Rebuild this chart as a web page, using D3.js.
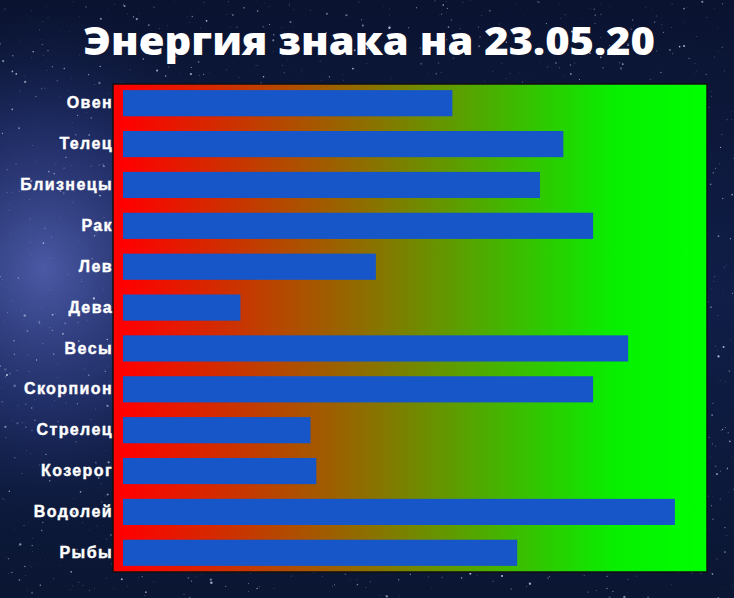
<!DOCTYPE html>
<html lang="ru">
<head>
    <meta charset="UTF-8">
    <script src="https://d3js.org/d3.v7.min.js"></script>
    <title>Энергия знака на 23.05.20</title>
    <style>
        body { margin: 0; background: #0b1533; }
        svg { display: block; }
        .label { font-family: "Liberation Sans", Arial, sans-serif; font-weight: bold; font-size: 16px; fill: #fff; stroke: #fff; stroke-width: 0.4px; letter-spacing: 1.4px; }
        .title { font-family: "Open Sans", "Liberation Sans", sans-serif; font-weight: 800; font-size: 38px; fill: #fff; }
    </style>
</head>
<body>
<div id="chart"></div>
<script>
    const width = 734;
    const height = 598;
    // bord du cadre coloré
    const plot = { left: 113, top: 84, right: 707, bottom: 572 };

    const signes = ["Овен", "Телец", "Близнецы", "Рак", "Лев", "Дева", "Весы", "Скорпион", "Стрелец", "Козерог", "Водолей", "Рыбы"];
    const energie = [56.4, 75.4, 71.4, 80.5, 43.3, 20.1, 86.5, 80.5, 32.1, 33.1, 94.5, 67.5];

    const svg = d3.select("#chart").append("svg")
        .attr("width", width)
        .attr("height", height);

    const defs = svg.append("defs");

    // ciel étoilé
    const ciel = defs.append("linearGradient").attr("id", "ciel")
        .attr("x1", 0).attr("y1", 0).attr("x2", 0).attr("y2", 1);
    ciel.append("stop").attr("offset", "0%").attr("stop-color", "#0a1330");
    ciel.append("stop").attr("offset", "50%").attr("stop-color", "#101e48");
    ciel.append("stop").attr("offset", "100%").attr("stop-color", "#0a1632");

    const voieLactee = defs.append("radialGradient").attr("id", "voie")
        .attr("cx", 0.06).attr("cy", 0.45).attr("r", 0.32)
        .attr("gradientTransform", "translate(0.06,0.45) scale(1,1.4) translate(-0.06,-0.45)");
    voieLactee.append("stop").attr("offset", "0%").attr("stop-color", "#5260b0").attr("stop-opacity", 0.9);
    voieLactee.append("stop").attr("offset", "55%").attr("stop-color", "#2c3a80").attr("stop-opacity", 0.55);
    voieLactee.append("stop").attr("offset", "100%").attr("stop-color", "#101e48").attr("stop-opacity", 0);

    svg.append("rect").attr("width", width).attr("height", height).attr("fill", "url(#ciel)");
    svg.append("rect").attr("width", width).attr("height", height).attr("fill", "url(#voie)");

    // étoiles (générateur déterministe)
    let graine = 12345;
    const alea = () => { graine = (graine * 1103515245 + 12345) % 2147483648; return graine / 2147483648; };
    const etoiles = d3.range(2200).map(() => {
        const x = alea() * width, y = alea() * height;
        return { x, y, r: 0.25 + alea() * alea() * 1.1, o: 0.2 + alea() * 0.6 };
    });
    svg.append("g").selectAll("circle")
        .data(etoiles)
        .join("circle")
        .attr("cx", d => d.x)
        .attr("cy", d => d.y)
        .attr("r", d => d.r)
        .attr("fill", "#dfe6ff")
        .attr("opacity", d => d.o);

    // dégradé rouge -> vert
    const degrade = defs.append("linearGradient").attr("id", "degrade")
        .attr("gradientUnits", "userSpaceOnUse")
        .attr("x1", plot.left).attr("x2", plot.right).attr("y1", 0).attr("y2", 0);
    degrade.append("stop").attr("offset", "1.7%").attr("stop-color", "#ff0000");
    degrade.append("stop").attr("offset", "43%").attr("stop-color", "#8c7000");
    degrade.append("stop").attr("offset", "85%").attr("stop-color", "#06f000");
    degrade.append("stop").attr("offset", "100%").attr("stop-color", "#00ff00");

    svg.append("rect")
        .attr("x", plot.left)
        .attr("y", plot.top)
        .attr("width", plot.right - plot.left)
        .attr("height", plot.bottom - plot.top)
        .attr("fill", "url(#degrade)")
        .attr("stroke", "#101010")
        .attr("stroke-width", 1.5);

    // Échelles
    const x = d3.scaleLinear()
        .domain([0, 100])
        .range([plot.left + 10, plot.right]);

    const y = d3.scaleBand()
        .domain(signes)
        .range([plot.top, plot.bottom])
        .paddingInner(0.36)
        .paddingOuter(0.15);

    svg.append("g")
        .selectAll("rect")
        .data(signes)
        .join("rect")
        .attr("x", x(0))
        .attr("y", d => y(d))
        .attr("width", (d, i) => x(energie[i]) - x(0))
        .attr("height", y.bandwidth())
        .attr("fill", "#1656c9");

    // Axe des signes
    const yAxis = d3.axisLeft(y).tickSize(0).tickPadding(0);
    const axe = svg.append("g")
        .attr("transform", `translate(${plot.left},0)`)
        .call(yAxis);
    axe.select(".domain").remove();
    axe.selectAll("text").attr("class", "label").attr("fill", null).attr("font-size", null).attr("font-family", null);

    svg.append("text")
        .attr("class", "title")
        .attr("x", 369)
        .attr("y", 55)
        .attr("text-anchor", "middle")
        .attr("textLength", 572)
        .attr("lengthAdjust", "spacingAndGlyphs")
        .text("Энергия знака на 23.05.20");
</script>
</body>
</html>
